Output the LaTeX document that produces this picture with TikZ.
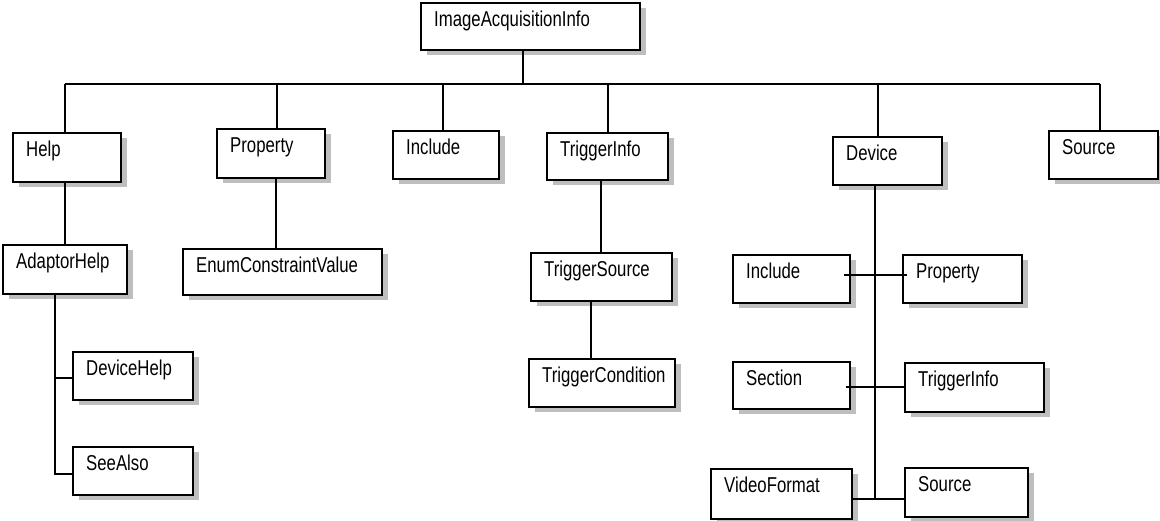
\documentclass[tikz,border=0pt]{standalone}
\usepackage{fontspec}
\setmainfont[FakeStretch=0.78]{Liberation Sans}
\usetikzlibrary{shadows}
\definecolor{shadowgray}{RGB}{190,190,190}
\tikzset{
  box/.style={draw=black, fill=white, line width=1.8pt, inner sep=0pt, anchor=north west,
    general shadow={shadow xshift=6pt, shadow yshift=-5pt, fill=shadowgray, draw=none}},
  lbl/.style={anchor=base west, inner sep=0pt, font=\fontsize{21.5}{24}\selectfont},
  conn/.style={line width=1.8pt, draw=black}
}
\newcommand{\mybox}[5]{%
  \node[box, minimum width=#4-#2, minimum height=#5-#3] (#1) at (#2,#3) {};
}
\newcommand{\mylabel}[2]{%
  \node[lbl] (#1-t) at ([xshift=14pt, yshift=-24.5pt]#1.north west) {#2};
}
\begin{document}
\begin{tikzpicture}[x=1pt, y=-1pt]
\useasboundingbox (0,0) rectangle (1160,520);
% boxes
\mybox{root}{420}{2}{639}{49}
\mybox{help}{12}{132}{120}{181}
\mybox{prop}{216}{128}{324}{177}
\mybox{inc}{392}{130}{498}{178}
\mybox{trig}{546}{132}{667}{179}
\mybox{dev}{832}{136}{941}{184}
\mybox{src}{1048}{130}{1157}{178}
\mybox{adh}{2}{244}{126}{293}
\mybox{dh}{72}{351}{192}{399}
\mybox{sa}{72}{446}{192}{494}
\mybox{enum}{182}{248}{381}{294}
\mybox{ts}{530}{252}{671}{300}
\mybox{tc}{528}{358}{674}{406}
\mybox{inc2}{732}{254}{849}{302}
\mybox{prop2}{902}{254}{1021}{302}
\mybox{sec}{732}{361}{849}{408}
\mybox{ti2}{904}{362}{1043}{411}
\mybox{vf}{710}{468}{851}{518}
\mybox{src2}{904}{467}{1027}{516}
% connectors
\coordinate (bus) at (523,84);
\draw[conn] (root.south -| bus) -- (bus);
\draw[conn] ([xshift=-2pt]help.north |- bus) -- ([xshift=-3.5pt]src.north |- bus);
\draw[conn] ([xshift=-2pt]help.north) -- ([xshift=-2pt]help.north |- bus);
\draw[conn] ([xshift=6pt]prop.north) -- ([xshift=6pt]prop.north |- bus);
\draw[conn] ([xshift=-3pt]inc.north) -- ([xshift=-3pt]inc.north |- bus);
\draw[conn] ([xshift=0.5pt]trig.north) -- ([xshift=0.5pt]trig.north |- bus);
\draw[conn] ([xshift=-9.5pt]dev.north) -- ([xshift=-9.5pt]dev.north |- bus);
\draw[conn] ([xshift=-3.5pt]src.north) -- ([xshift=-3.5pt]src.north |- bus);
% Help subtree
\draw[conn] (adh.north |- help.south) -- (adh.north);
\coordinate (adhx) at ([xshift=-10pt]adh.south);
\draw[conn] (adhx) |- ([yshift=-3pt]sa.west);
\draw[conn] ([yshift=-2pt]dh.west) -- ([yshift=-2pt]dh.west -| adhx);
% Property subtree
\draw[conn] ([xshift=5pt]prop.south) -- ([xshift=5pt]prop.south |- enum.north);
% TriggerInfo subtree
\draw[conn] ([xshift=-6.5pt]trig.south) -- ([xshift=-6.5pt]trig.south |- ts.north);
\draw[conn] ([xshift=-10.5pt]ts.south) -- ([xshift=-10.5pt]ts.south |- tc.north);
% Device subtree
\coordinate (dv) at ([xshift=-12.5pt]dev.south);
\coordinate (dvend) at ([yshift=-5pt]vf.east -| dv);
\draw[conn] (dv) -- (dvend);
\draw[conn] ([yshift=-5pt]vf.east) -- ([yshift=-5pt]vf.east -| src2.west);
\draw[conn] ([xshift=-7pt, yshift=4pt]inc2.east) -- ([xshift=5pt, yshift=4pt]inc2.east -| prop2.west);
\draw[conn] ([xshift=-5pt, yshift=-1.5pt]sec.east) -- ([yshift=-1.5pt]sec.east -| ti2.west);
% labels
\mylabel{root}{ImageAcquisitionInfo}
\mylabel{help}{Help}
\mylabel{prop}{Property}
\mylabel{inc}{Include}
\mylabel{trig}{TriggerInfo}
\mylabel{dev}{Device}
\mylabel{src}{Source}
\mylabel{adh}{AdaptorHelp}
\mylabel{dh}{DeviceHelp}
\mylabel{sa}{SeeAlso}
\mylabel{enum}{EnumConstraintValue}
\mylabel{ts}{TriggerSource}
\mylabel{tc}{TriggerCondition}
\mylabel{inc2}{Include}
\mylabel{prop2}{Property}
\mylabel{sec}{Section}
\mylabel{ti2}{TriggerInfo}
\mylabel{vf}{VideoFormat}
\mylabel{src2}{Source}
\end{tikzpicture}
\end{document}
